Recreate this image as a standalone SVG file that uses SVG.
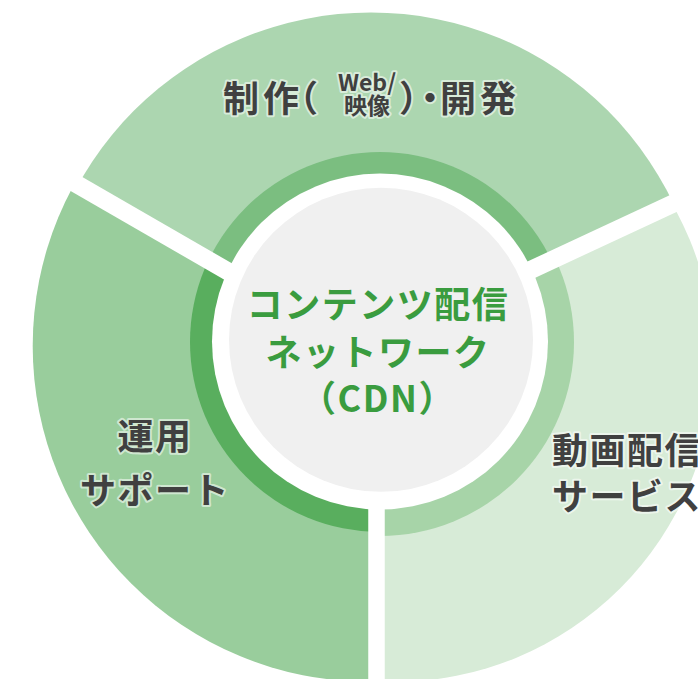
<svg xmlns="http://www.w3.org/2000/svg" width="698" height="679" viewBox="0 0 698 679">
<style>
.lbl{font-family:"Noto Sans CJK JP","Noto Sans",sans-serif;font-weight:bold;fill:#404040;stroke:rgba(255,255,255,0.55);stroke-width:4;stroke-linejoin:round;paint-order:stroke;}
.big{font-size:36px;letter-spacing:1.5px;}
.ctr{font-family:"Noto Sans CJK JP","Noto Sans",sans-serif;font-weight:bold;font-size:36px;letter-spacing:1.5px;fill:#3a9c3f;text-anchor:middle;}
.gap{stroke:#ffffff;fill:none;}
</style>
<defs>
<clipPath id="wTop"><polygon points="361.8,348.6 -156.4,49.5 -160,-300 860,-300 851.8,120.1"/></clipPath>
<clipPath id="wRight"><polygon points="376.5,341.8 851.8,120.1 1000,120 1000,1000 376.5,1000"/></clipPath>
<clipPath id="wLeft"><polygon points="376.5,357.2 376.5,1000 -300,1000 -300,49.5 -156.4,49.5"/></clipPath>
</defs>
<rect width="698" height="679" fill="#ffffff"/>
<g id="seg-top">
<circle cx="370.9" cy="347.5" r="335" fill="#acd6b0" clip-path="url(#wTop)"/>
<circle cx="380" cy="342" r="190" fill="#7bbe80" clip-path="url(#wTop)"/>
</g>
<g id="seg-left">
<circle cx="368.3" cy="346" r="335.6" fill="#99cd9c" clip-path="url(#wLeft)"/>
<circle cx="380" cy="342" r="190" fill="#59ae5e" clip-path="url(#wLeft)"/>
</g>
<g id="seg-right">
<circle cx="394" cy="362" r="320" fill="#d7ebd7" clip-path="url(#wRight)"/>
<circle cx="380" cy="342" r="194" fill="#a7d4a8" clip-path="url(#wRight)"/>
</g>
<g id="gaps">
<line class="gap" x1="376.5" y1="357.2" x2="-160" y2="47.4" stroke-width="18"/>
<line class="gap" x1="376.5" y1="341.8" x2="860" y2="116.5" stroke-width="18"/>
<line class="gap" x1="376.5" y1="340" x2="376.5" y2="700" stroke-width="16.5"/>
</g>
<g id="center">
<circle cx="380" cy="341.6" r="168" fill="#ffffff"/>
<circle cx="381" cy="339.8" r="152" fill="#f0f0f0"/>
<text class="ctr" x="378" y="318">コンテンツ配信</text>
<text class="ctr" x="378" y="366">ネットワーク</text>
<text class="ctr" x="378" y="412">（CDN）</text>
</g>
<g id="label-top">
<text class="lbl big" y="112"><tspan x="223" letter-spacing="4">制作</tspan><tspan x="282">（</tspan><tspan x="399">）</tspan><tspan x="412">・</tspan><tspan x="440" letter-spacing="4">開発</tspan></text>
<text class="lbl" x="367" y="91" font-size="23" text-anchor="middle">Web/</text>
<text class="lbl" x="367" y="114" font-size="23" text-anchor="middle">映像</text>
</g>
<g id="label-left">
<text class="lbl big" x="155" y="450" text-anchor="middle">運用</text>
<text class="lbl big" x="155" y="504" text-anchor="middle">サポート</text>
</g>
<g id="label-right">
<text class="lbl big" x="552" y="464">動画配信</text>
<text class="lbl big" x="552" y="510">サービス</text>
</g>
</svg>
